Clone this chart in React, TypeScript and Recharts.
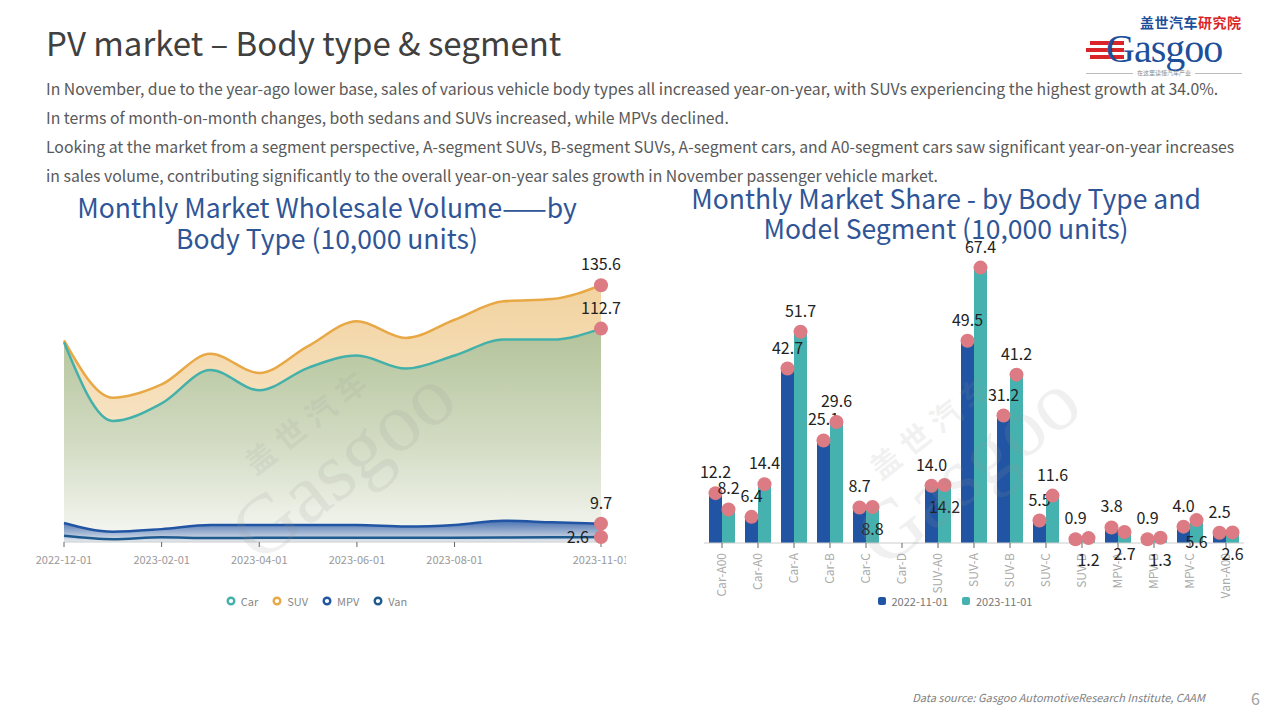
import React from "react";
import {
  ComposedChart,
  Area,
  Line,
  XAxis,
  YAxis,
  Legend,
  BarChart,
  Bar,
  LabelList,
} from "recharts";

// monthly wholesale volume by body type (10,000 units)
const months = [
  "2022-12-01", "2023-01-01", "2023-02-01", "2023-03-01", "2023-04-01", "2023-05-01",
  "2023-06-01", "2023-07-01", "2023-08-01", "2023-09-01", "2023-10-01", "2023-11-01",
];
const monthTicks = ["2022-12-01", "2023-02-01", "2023-04-01", "2023-06-01", "2023-08-01", "2023-11-01"];
const carVolume = [105.5, 63.9, 73.2, 90.8, 80.2, 92.0, 98.5, 91.6, 98.5, 106.9, 106.9, 112.7];
const suvVolume = [106.5, 76.2, 83.2, 99.4, 89.3, 103.4, 116.6, 107.8, 117.4, 127.1, 128.3, 135.6];
const mpvVolume = [10.0, 5.4, 6.8, 9.0, 9.0, 9.0, 9.0, 8.2, 9.0, 11.2, 10.4, 9.7];
const vanVolume = [3.3, 1.5, 2.5, 2.1, 2.2, 2.2, 2.3, 2.2, 2.3, 2.4, 2.5, 2.6];
const bodyTypes = ["Car", "SUV", "MPV", "Van"];

// segment volume, Nov 2022 vs Nov 2023
const segments = [
  "Car-A00", "Car-A0", "Car-A", "Car-B", "Car-C", "Car-D", "SUV-A0", "SUV-A",
  "SUV-B", "SUV-C", "SUV-D", "MPV-A", "MPV-B", "MPV-C", "Van-A00",
];
const sales2022 = [12.2, 6.4, 42.7, 25.1, 8.7, 0, 14.0, 49.5, 31.2, 5.5, 0.9, 3.8, 0.9, 4.0, 2.5];
const sales2023 = [8.2, 14.4, 51.7, 29.6, 8.8, 0, 14.2, 67.4, 41.2, 11.6, 1.2, 2.7, 1.3, 5.6, 2.6];

const volumeData = months.map((m, i) => ({
  month: m,
  Car: carVolume[i],
  SUV: suvVolume[i],
  MPV: mpvVolume[i],
  Van: vanVolume[i],
}));

const segmentData = segments.map((s, i) => ({
  segment: s,
  "2022-11-01": sales2022[i],
  "2023-11-01": sales2023[i],
}));

const FONT = '"Noto Sans CJK SC", "Noto Sans", sans-serif';
const PINK = "#dc7b83";
const TITLE_BLUE = "#2f5597";
const last = months.length - 1;

// bar chart geometry (used to find which category a label belongs to)
const BAR_LEFT = 64;
const BAR_BAND = 36;

function endDot(props: any) {
  const { cx, cy, index } = props;
  if (index !== last) return <g key={`dot-${index}`} />;
  return <circle key={`dot-${index}`} cx={cx} cy={cy} r={7} fill={PINK} />;
}

function endLabel(side: "top" | "left") {
  return (props: any) => {
    const { x, y, value, index } = props;
    if (index !== last) return null;
    const text = Number(value).toFixed(1);
    if (side === "left") {
      return (
        <text x={x - 12} y={y + 6} textAnchor="end" fontSize={16} fill="#222" fontFamily={FONT}>
          {text}
        </text>
      );
    }
    return (
      <text x={x} y={y - 15} textAnchor="middle" fontSize={16} fill="#222" fontFamily={FONT}>
        {text}
      </text>
    );
  };
}

function VolumeLegend(props: any) {
  const items = [...(props.payload || [])].sort(
    (a: any, b: any) => bodyTypes.indexOf(a.value) - bodyTypes.indexOf(b.value)
  );
  return (
    <div
      style={{
        height: 40,
        display: "flex",
        justifyContent: "center",
        alignItems: "center",
        gap: 14,
        fontSize: 11,
        color: "#888",
        fontFamily: FONT,
        paddingTop: 2,
        paddingRight: 32,
        boxSizing: "border-box",
      }}
    >
      {items.map((it: any) => (
        <span key={it.value} style={{ display: "flex", alignItems: "center", gap: 5 }}>
          <svg width={10} height={10}>
            <circle cx={5} cy={5} r={3.3} fill="#fff" stroke={it.color} strokeWidth={2.4} />
          </svg>
          {it.value}
        </span>
      ))}
    </div>
  );
}

function SegmentLegend(props: any) {
  const items = props.payload || [];
  return (
    <div
      style={{
        height: 20,
        display: "flex",
        justifyContent: "center",
        alignItems: "center",
        gap: 14,
        fontSize: 11,
        color: "#777",
        fontFamily: FONT,
        paddingRight: 38,
        paddingBottom: 4,
        boxSizing: "border-box",
      }}
    >
      {items.map((it: any) => (
        <span key={it.value} style={{ display: "flex", alignItems: "center", gap: 6 }}>
          <span style={{ width: 8, height: 8, borderRadius: 2, background: it.color, display: "inline-block" }} />
          {it.value}
        </span>
      ))}
    </div>
  );
}

function SegmentTick(props: any) {
  const { x, y, payload } = props;
  return (
    <text
      x={x}
      y={y}
      transform={`rotate(-90, ${x}, ${y})`}
      textAnchor="end"
      dy="0.35em"
      fill="#aaa"
      fontSize={12}
      fontFamily={FONT}
    >
      {payload.value}
    </text>
  );
}

function barTop(series: "old" | "new") {
  return (props: any) => {
    const { x, y, width, value } = props;
    if (!value) return null;
    const cx = x + width / 2;
    const idx = Math.floor((x - BAR_LEFT) / BAR_BAND);
    let ly = y - 15;
    if (series === "new" && Math.abs(value - sales2022[idx]) < 2) ly = y + 28;
    return (
      <g>
        <circle cx={cx} cy={y} r={7} fill={PINK} />
        <text x={cx} y={ly} textAnchor="middle" fontSize={16} fill="#222" fontFamily={FONT}>
          {Number(value).toFixed(1)}
        </text>
      </g>
    );
  };
}

function Watermark({ left, top }: { left: number; top: number }) {
  return (
    <div
      style={{
        position: "absolute",
        left,
        top,
        transform: "rotate(-38deg)",
        color: "rgba(150,150,150,0.14)",
        fontFamily: "Liberation Serif, serif",
        pointerEvents: "none",
        textAlign: "center",
        lineHeight: 1,
      }}
    >
      <div style={{ fontSize: 30, fontFamily: FONT, fontWeight: 700, letterSpacing: 8 }}>盖世汽车</div>
      <div style={{ fontSize: 84 }}>Gasgoo</div>
    </div>
  );
}

export default function App() {
  return (
    <div
      style={{
        position: "absolute",
        left: 0,
        top: 0,
        width: 1280,
        height: 720,
        background: "#fff",
        overflow: "hidden",
        fontFamily: FONT,
      }}
    >
      {/* header */}
      <div style={{ position: "absolute", left: 46, top: 22, fontSize: 33, lineHeight: "40px", color: "#404040" }}>
        PV market – Body type &amp; segment
      </div>
      <div
        style={{
          position: "absolute",
          left: 46,
          top: 74,
          fontSize: 15.8,
          lineHeight: "29px",
          color: "#595959",
          whiteSpace: "nowrap",
        }}
      >
        <div>
          In November, due to the year-ago lower base, sales of various vehicle body types all increased year-on-year, with SUVs experiencing the highest growth at 34.0%.
        </div>
        <div>In terms of month-on-month changes, both sedans and SUVs increased, while MPVs declined.</div>
        <div>
          Looking at the market from a segment perspective, A-segment SUVs, B-segment SUVs, A-segment cars, and A0-segment cars saw significant year-on-year increases
        </div>
        <div>in sales volume, contributing significantly to the overall year-on-year sales growth in November passenger vehicle market.</div>
      </div>

      {/* logo */}
      <div style={{ position: "absolute", left: 1086, top: 14, width: 156, height: 66 }}>
        <div
          style={{
            position: "absolute",
            left: 54,
            top: 1,
            fontSize: 14,
            fontWeight: 700,
            lineHeight: "15px",
            letterSpacing: 0.5,
            whiteSpace: "nowrap",
          }}
        >
          <span style={{ color: "#1d4f9b" }}>盖世汽车</span>
          <span style={{ color: "#d9252a" }}>研究院</span>
        </div>
        <div style={{ position: "absolute", left: 4, top: 27, width: 34, height: 4, background: "#d9252a" }} />
        <div style={{ position: "absolute", left: 0, top: 34, width: 38, height: 4, background: "#d9252a" }} />
        <div style={{ position: "absolute", left: 4, top: 41, width: 34, height: 4, background: "#d9252a" }} />
        <div
          style={{
            position: "absolute",
            left: 20,
            top: 17,
            fontSize: 40,
            lineHeight: "36px",
            color: "#1d4f9b",
            fontFamily: "Liberation Serif, serif",
            letterSpacing: -1,
          }}
        >
          Gasgoo
        </div>
        <div
          style={{
            position: "absolute",
            left: 0,
            top: 55,
            width: 156,
            fontSize: 6,
            lineHeight: "8px",
            color: "#888",
            display: "flex",
            alignItems: "center",
            gap: 4,
          }}
        >
          <span style={{ flex: 1, height: 1, background: "#bbb" }} />
          在这里读懂汽车产业
          <span style={{ flex: 1, height: 1, background: "#bbb" }} />
        </div>
      </div>

      {/* left chart */}
      <div
        style={{
          position: "absolute",
          left: 27,
          top: 191,
          width: 600,
          textAlign: "center",
          fontSize: 26.5,
          lineHeight: "31px",
          color: TITLE_BLUE,
        }}
      >
        Monthly Market Wholesale Volume——by
        <br />
        Body Type (10,000 units)
      </div>
      <div style={{ position: "absolute", left: 0, top: 230 }}>
        <ComposedChart width={626} height={390} data={volumeData} margin={{ top: 28, right: 25, left: 64, bottom: 0 }}>
          <defs>
            <linearGradient id="suvFill" x1="0" y1="0" x2="0" y2="1">
              <stop offset="0%" stopColor="#f2d3a0" stopOpacity={1} />
              <stop offset="100%" stopColor="#fbf0df" stopOpacity={1} />
            </linearGradient>
            <linearGradient id="carFill" x1="0" y1="0" x2="0" y2="1">
              <stop offset="0%" stopColor="#b3c39a" stopOpacity={1} />
              <stop offset="55%" stopColor="#d3dcc4" stopOpacity={1} />
              <stop offset="100%" stopColor="#f7f8f4" stopOpacity={1} />
            </linearGradient>
            <linearGradient id="mpvFill" x1="0" y1="0" x2="0" y2="1">
              <stop offset="0%" stopColor="#2d5cab" stopOpacity={0.85} />
              <stop offset="100%" stopColor="#2d5cab" stopOpacity={0.08} />
            </linearGradient>
          </defs>
          <XAxis
            dataKey="month"
            ticks={monthTicks}
            interval={0}
            height={38}
            tick={{ fill: "#999", fontSize: 11, fontFamily: FONT }}
            tickSize={5}
            tickMargin={9}
            tickLine={{ stroke: "#666" }}
            axisLine={{ stroke: "#ccc" }}
          />
          <YAxis hide domain={[0, 150]} />
          <Legend verticalAlign="bottom" content={<VolumeLegend />} />
          <Area
            type="monotone"
            dataKey="SUV"
            name="SUV"
            stroke="#e8a845"
            strokeWidth={2.5}
            fill="url(#suvFill)"
            fillOpacity={1}
            dot={endDot}
            activeDot={false}
            isAnimationActive={false}
          >
            <LabelList dataKey="SUV" content={endLabel("top")} />
          </Area>
          <Area
            type="monotone"
            dataKey="Car"
            name="Car"
            stroke="#43b1aa"
            strokeWidth={2.5}
            fill="url(#carFill)"
            fillOpacity={1}
            dot={endDot}
            activeDot={false}
            isAnimationActive={false}
          >
            <LabelList dataKey="Car" content={endLabel("top")} />
          </Area>
          <Area
            type="monotone"
            dataKey="MPV"
            name="MPV"
            stroke="#2155a3"
            strokeWidth={2.5}
            fill="url(#mpvFill)"
            fillOpacity={1}
            dot={endDot}
            activeDot={false}
            isAnimationActive={false}
          >
            <LabelList dataKey="MPV" content={endLabel("top")} />
          </Area>
          <Line
            type="monotone"
            dataKey="Van"
            name="Van"
            stroke="#1e5a8e"
            strokeWidth={2.5}
            dot={endDot}
            activeDot={false}
            isAnimationActive={false}
          >
            <LabelList dataKey="Van" content={endLabel("left")} />
          </Line>
        </ComposedChart>
      </div>
      <Watermark left={205} top={395} />

      {/* right chart */}
      <div
        style={{
          position: "absolute",
          left: 646,
          top: 183,
          width: 600,
          textAlign: "center",
          fontSize: 26.5,
          lineHeight: "30px",
          color: TITLE_BLUE,
        }}
      >
        Monthly Market Share - by Body Type and
        <br />
        Model Segment (10,000 units)
      </div>
      <div style={{ position: "absolute", left: 640, top: 230 }}>
        <BarChart
          width={620}
          height={383}
          data={segmentData}
          margin={{ top: 27, right: 16, left: BAR_LEFT, bottom: 0 }}
          barGap={0}
          barSize={13}
        >
          <XAxis
            dataKey="segment"
            interval={0}
            height={50}
            tick={<SegmentTick />}
            tickSize={5}
            tickMargin={5}
            tickLine={{ stroke: "#666" }}
            axisLine={{ stroke: "#ccc" }}
          />
          <YAxis hide domain={[0, 70]} />
          <Legend verticalAlign="bottom" content={<SegmentLegend />} />
          <Bar dataKey="2022-11-01" fill="#2155a3" isAnimationActive={false}>
            <LabelList dataKey="2022-11-01" content={barTop("old")} />
          </Bar>
          <Bar dataKey="2023-11-01" fill="#45b2b0" isAnimationActive={false}>
            <LabelList dataKey="2023-11-01" content={barTop("new")} />
          </Bar>
        </BarChart>
      </div>
      <Watermark left={830} top={400} />

      {/* footer */}
      <div
        style={{
          position: "absolute",
          right: 75,
          top: 689,
          fontSize: 11,
          fontStyle: "italic",
          color: "#7f7f7f",
          lineHeight: "16px",
        }}
      >
        Data source: Gasgoo AutomotiveResearch Institute, CAAM
      </div>
      <div style={{ position: "absolute", left: 1251, top: 688, fontSize: 16, color: "#a0a0a0", lineHeight: "20px" }}>6</div>
    </div>
  );
}
